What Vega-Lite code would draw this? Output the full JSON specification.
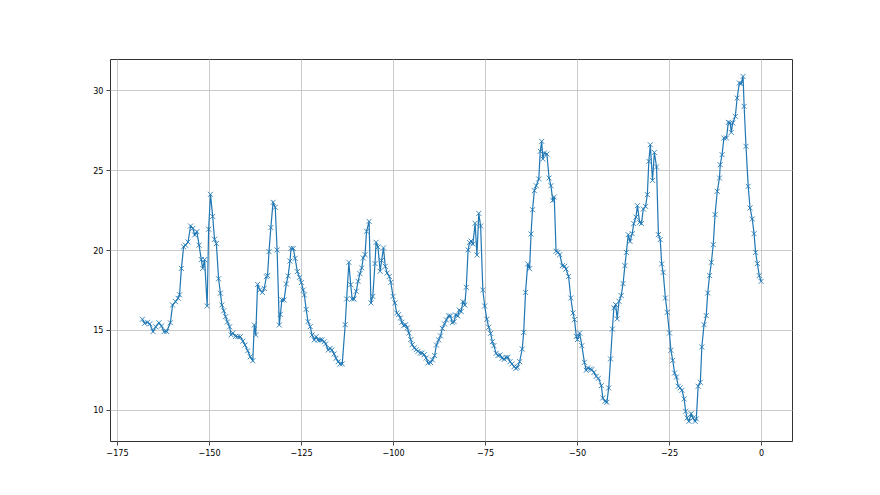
{
  "$schema": "https://vega.github.io/schema/vega-lite/v6.json",
  "width": 682,
  "height": 382,
  "autosize": {"type": "none"},
  "padding": {"left": 110, "top": 59, "right": 88, "bottom": 54},
  "background": "white",
  "config": {
    "view": {"stroke": "#333333", "strokeWidth": 1},
    "font": "DejaVu Sans",
    "axis": {
      "domain": false,
      "grid": true,
      "gridColor": "#c4c4c4",
      "gridWidth": 0.9,
      "tickColor": "#333333",
      "tickWidth": 0.9,
      "tickSize": 4,
      "labelColor": "#000000",
      "labelFont": "DejaVu Sans Condensed, DejaVu Sans",
      "labelFontSize": 9,
      "labelPadding": 3,
      "title": null
    }
  },
  "data": {"values": [
    {"h":-168.1,"v":15.67},{"h":-167.5,"v":15.42},{"h":-166.7,"v":15.48},{"h":-166.1,"v":15.38},{"h":-165.2,"v":14.9},{"h":-164.5,"v":15.2},{"h":-163.6,"v":15.45},{"h":-162.9,"v":15.25},{"h":-162.2,"v":14.9},{"h":-161.5,"v":14.9},{"h":-160.5,"v":15.45},{"h":-159.9,"v":16.56},{"h":-159.1,"v":16.77},{"h":-158.4,"v":16.98},{"h":-158.0,"v":17.2},{"h":-157.5,"v":18.85},{"h":-156.9,"v":20.2},{"h":-156.4,"v":20.3},{"h":-155.7,"v":20.5},{"h":-155.0,"v":21.5},{"h":-154.4,"v":21.35},{"h":-153.9,"v":20.94},{"h":-153.3,"v":21.15},{"h":-152.7,"v":20.3},{"h":-152.1,"v":19.4},{"h":-151.7,"v":18.85},{"h":-151.2,"v":19.4},{"h":-150.5,"v":16.5},{"h":-150.1,"v":21.3},{"h":-149.6,"v":23.48},{"h":-149.0,"v":22.1},{"h":-148.5,"v":20.67},{"h":-148.0,"v":20.4},{"h":-147.4,"v":18.2},{"h":-146.9,"v":17.3},{"h":-146.5,"v":16.56},{"h":-146.0,"v":16.2},{"h":-145.5,"v":15.83},{"h":-145.0,"v":15.5},{"h":-144.4,"v":15.2},{"h":-144.0,"v":14.7},{"h":-143.5,"v":14.8},{"h":-142.8,"v":14.6},{"h":-142.2,"v":14.58},{"h":-141.5,"v":14.58},{"h":-140.8,"v":14.3},{"h":-140.2,"v":14.06},{"h":-139.5,"v":13.7},
    {"h":-138.8,"v":13.33},{"h":-138.1,"v":13.08},{"h":-137.7,"v":15.31},{"h":-137.3,"v":14.69},{"h":-136.8,"v":17.85},{"h":-136.2,"v":17.5},{"h":-135.5,"v":17.35},{"h":-135.0,"v":17.6},{"h":-134.4,"v":18.33},{"h":-134.1,"v":18.4},{"h":-133.7,"v":19.9},{"h":-133.2,"v":21.4},{"h":-132.6,"v":22.98},{"h":-132.0,"v":22.67},{"h":-131.5,"v":20.0},{"h":-130.9,"v":15.31},{"h":-130.6,"v":15.98},{"h":-130.2,"v":16.88},{"h":-129.6,"v":16.88},{"h":-129.0,"v":17.88},{"h":-128.5,"v":18.38},{"h":-128.0,"v":19.31},{"h":-127.7,"v":20.1},{"h":-127.1,"v":20.1},{"h":-126.6,"v":19.48},{"h":-126.0,"v":18.65},{"h":-125.4,"v":18.29},{"h":-124.9,"v":17.96},{"h":-124.4,"v":17.5},{"h":-124.1,"v":17.19},{"h":-123.6,"v":16.29},{"h":-123.1,"v":15.52},{"h":-122.5,"v":15.21},{"h":-122.0,"v":14.69},{"h":-121.4,"v":14.38},{"h":-120.9,"v":14.58},{"h":-120.4,"v":14.38},{"h":-119.8,"v":14.38},{"h":-119.3,"v":14.38},{"h":-118.7,"v":14.27},{"h":-118.3,"v":14.13},{"h":-117.6,"v":13.75},{"h":-117.1,"v":13.85},{"h":-116.6,"v":13.75},{"h":-116.0,"v":13.5},{"h":-115.5,"v":13.23},{"h":-114.9,"v":13.02},{"h":-114.4,"v":12.88},{"h":-113.8,"v":12.88},
    {"h":-113.0,"v":15.33},{"h":-112.6,"v":16.94},{"h":-112.0,"v":19.23},{"h":-111.5,"v":17.83},{"h":-111.1,"v":16.94},{"h":-110.6,"v":16.94},{"h":-110.0,"v":17.42},{"h":-109.5,"v":18.04},{"h":-109.0,"v":18.52},{"h":-108.5,"v":18.88},{"h":-108.1,"v":19.5},{"h":-107.6,"v":19.71},{"h":-107.2,"v":21.17},{"h":-106.5,"v":21.79},{"h":-106.0,"v":16.69},{"h":-105.5,"v":17.1},{"h":-104.9,"v":19.15},{"h":-104.6,"v":20.48},{"h":-104.1,"v":20.19},{"h":-103.5,"v":18.67},{"h":-103.1,"v":19.35},{"h":-102.6,"v":20.13},{"h":-102.1,"v":18.98},{"h":-101.6,"v":18.56},{"h":-101.0,"v":18.35},{"h":-100.6,"v":17.98},{"h":-100.0,"v":17.1},{"h":-99.5,"v":16.69},{"h":-99.0,"v":16.06},{"h":-98.5,"v":15.96},{"h":-98.0,"v":15.75},{"h":-97.6,"v":15.48},{"h":-97.1,"v":15.27},{"h":-96.6,"v":15.33},{"h":-96.1,"v":15.13},{"h":-95.7,"v":14.81},{"h":-95.2,"v":14.4},{"h":-94.8,"v":14.08},{"h":-94.2,"v":13.88},{"h":-93.7,"v":13.77},{"h":-93.2,"v":13.67},{"h":-92.6,"v":13.56},{"h":-92.1,"v":13.56},{"h":-91.5,"v":13.46},{"h":-91.0,"v":13.25},{"h":-90.5,"v":12.94},
    {"h":-89.8,"v":12.96},{"h":-89.3,"v":13.13},{"h":-88.7,"v":13.4},{"h":-88.2,"v":14.06},{"h":-87.6,"v":14.38},{"h":-87.1,"v":14.63},{"h":-86.6,"v":15.1},{"h":-86.0,"v":15.38},{"h":-85.5,"v":15.63},{"h":-84.9,"v":15.88},{"h":-84.4,"v":15.88},{"h":-83.9,"v":15.46},{"h":-83.4,"v":15.52},{"h":-83.0,"v":15.94},{"h":-82.4,"v":15.88},{"h":-82.0,"v":16.25},{"h":-81.5,"v":16.15},{"h":-81.0,"v":16.77},{"h":-80.5,"v":16.56},{"h":-80.1,"v":17.67},{"h":-79.6,"v":20.0},{"h":-79.2,"v":20.46},{"h":-78.8,"v":20.56},{"h":-78.3,"v":20.38},{"h":-77.7,"v":21.67},{"h":-77.2,"v":19.69},{"h":-76.7,"v":22.29},{"h":-76.2,"v":21.5},{"h":-75.6,"v":17.5},{"h":-75.1,"v":16.5},{"h":-74.5,"v":15.67},{"h":-74.0,"v":15.17},{"h":-73.5,"v":14.79},{"h":-73.0,"v":14.27},{"h":-72.6,"v":14.02},{"h":-72.0,"v":13.54},{"h":-71.5,"v":13.4},{"h":-70.9,"v":13.44},{"h":-70.4,"v":13.23},{"h":-69.8,"v":13.17},{"h":-69.3,"v":13.29},{"h":-68.8,"v":13.29},{"h":-68.2,"v":13.02},{"h":-67.7,"v":12.88},{"h":-67.1,"v":12.71},{"h":-66.6,"v":12.6},{"h":-66.2,"v":12.67},{"h":-65.6,"v":13.02},
    {"h":-64.9,"v":13.81},{"h":-64.5,"v":14.85},{"h":-64.0,"v":17.35},{"h":-63.4,"v":19.13},{"h":-62.9,"v":18.83},{"h":-62.5,"v":21.0},{"h":-62.1,"v":22.52},{"h":-61.6,"v":23.71},{"h":-61.1,"v":24.02},{"h":-60.4,"v":24.44},{"h":-60.0,"v":26.17},{"h":-59.6,"v":26.79},{"h":-59.3,"v":25.69},{"h":-58.9,"v":26.06},{"h":-58.2,"v":26.0},{"h":-57.6,"v":24.5},{"h":-57.1,"v":24.02},{"h":-56.6,"v":23.1},{"h":-56.2,"v":23.31},{"h":-55.7,"v":19.92},{"h":-55.2,"v":19.85},{"h":-54.7,"v":19.71},{"h":-54.0,"v":19.02},{"h":-53.4,"v":18.98},{"h":-53.0,"v":18.81},{"h":-52.3,"v":18.35},{"h":-51.7,"v":17.0},{"h":-51.1,"v":16.06},{"h":-50.7,"v":15.65},{"h":-50.2,"v":14.6},{"h":-49.9,"v":14.4},{"h":-49.3,"v":14.81},{"h":-48.7,"v":14.02},{"h":-48.0,"v":12.98},{"h":-47.5,"v":12.48},{"h":-47.1,"v":12.63},{"h":-46.4,"v":12.56},{"h":-46.0,"v":12.52},{"h":-45.4,"v":12.35},{"h":-44.8,"v":12.1},{"h":-44.2,"v":11.98},
    {"h":-43.4,"v":11.52},{"h":-43.0,"v":10.75},{"h":-42.4,"v":10.54},{"h":-41.9,"v":10.48},{"h":-41.4,"v":11.38},{"h":-40.9,"v":13.19},{"h":-40.4,"v":15.06},{"h":-40.0,"v":16.38},{"h":-39.5,"v":16.58},{"h":-39.1,"v":15.69},{"h":-38.6,"v":16.79},{"h":-38.0,"v":17.15},{"h":-37.5,"v":17.9},{"h":-37.0,"v":19.02},{"h":-36.6,"v":19.85},{"h":-36.1,"v":20.96},{"h":-35.6,"v":20.54},{"h":-35.0,"v":21.02},{"h":-34.6,"v":21.65},{"h":-34.0,"v":22.06},{"h":-33.6,"v":22.77},{"h":-33.0,"v":21.73},{"h":-32.5,"v":21.65},{"h":-32.0,"v":22.56},{"h":-31.4,"v":22.73},{"h":-30.9,"v":23.46},{"h":-30.5,"v":25.54},{"h":-30.1,"v":26.58},{"h":-29.5,"v":24.35},{"h":-29.0,"v":26.1},{"h":-28.4,"v":25.19},{"h":-27.9,"v":20.96},{"h":-27.4,"v":20.65},{"h":-27.0,"v":19.13},{"h":-26.6,"v":18.6},{"h":-26.0,"v":17.0},{"h":-25.5,"v":16.1},{"h":-24.9,"v":14.81},{"h":-24.5,"v":13.73},{"h":-24.0,"v":13.1},{"h":-23.5,"v":12.31},{"h":-23.0,"v":12.06},{"h":-22.5,"v":11.48},
    {"h":-22.0,"v":11.38},{"h":-21.5,"v":11.23},{"h":-20.9,"v":10.69},{"h":-20.5,"v":9.92},{"h":-20.1,"v":9.5},{"h":-19.6,"v":9.29},{"h":-19.0,"v":9.77},{"h":-18.5,"v":9.5},{"h":-17.9,"v":9.29},{"h":-17.6,"v":9.44},{"h":-17.1,"v":11.48},{"h":-16.5,"v":11.73},{"h":-16.1,"v":13.94},{"h":-15.5,"v":15.33},{"h":-14.9,"v":15.9},{"h":-14.5,"v":17.31},{"h":-14.0,"v":18.4},{"h":-13.5,"v":19.23},{"h":-13.0,"v":20.33},{"h":-12.5,"v":22.21},{"h":-11.9,"v":23.67},{"h":-11.3,"v":24.5},{"h":-11.1,"v":25.33},{"h":-10.6,"v":25.96},{"h":-10.1,"v":27.0},{"h":-9.4,"v":27.0},{"h":-8.9,"v":27.98},{"h":-8.4,"v":27.94},{"h":-8.1,"v":27.35},{"h":-7.7,"v":27.94},{"h":-7.0,"v":28.35},{"h":-6.5,"v":29.5},{"h":-5.9,"v":30.44},{"h":-5.4,"v":30.4},{"h":-4.9,"v":30.85},{"h":-4.6,"v":28.98},{"h":-4.1,"v":26.48},{"h":-3.5,"v":23.98},{"h":-3.0,"v":22.63},{"h":-2.4,"v":21.94},{"h":-1.9,"v":21.02},{"h":-1.5,"v":19.85},{"h":-1.0,"v":19.15},{"h":-0.5,"v":18.4},{"h":0.0,"v":18.04}
  ]},
  "encoding": {
    "x": {"field": "h", "type": "quantitative", "scale": {"domain": [-176.9, 8.4], "nice": false, "zero": false},
          "axis": {"values": [-175, -150, -125, -100, -75, -50, -25, 0], "format": "d"}},
    "y": {"field": "v", "type": "quantitative", "scale": {"domain": [8.06, 31.94], "nice": false, "zero": false},
          "axis": {"values": [10, 15, 20, 25, 30], "format": "d"}}
  },
  "layer": [
    {"mark": {"type": "line", "color": "#1f77b4", "strokeWidth": 1.2}},
    {"mark": {"type": "point", "shape": "M-1,-1L1,1M-1,1L1,-1", "filled": false, "color": "#1f77b4", "strokeWidth": 1, "size": 25, "opacity": 0.85}}
  ]
}
